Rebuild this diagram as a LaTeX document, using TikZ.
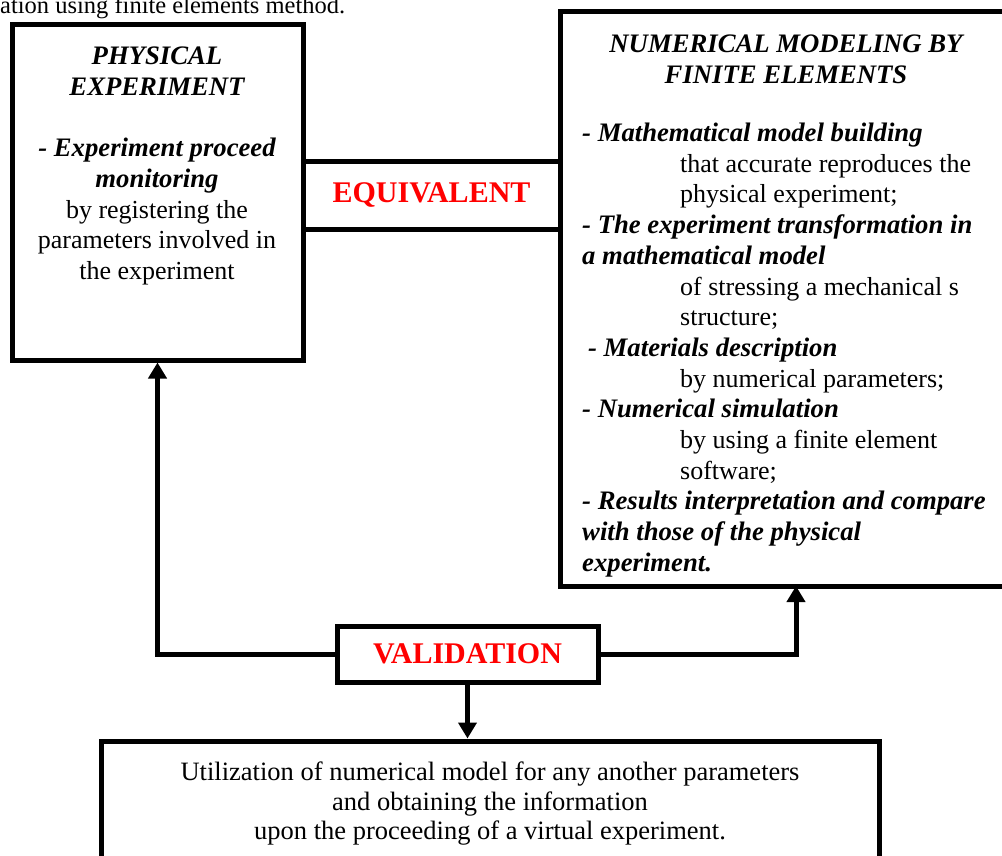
\documentclass[tikz,border=0pt]{standalone}
\usepackage{fontspec}
\setmainfont{Liberation Serif}
\usetikzlibrary{arrows.meta}
\newcommand{\bfit}[1]{{\fontsize{26.7}{30.7}\selectfont\bfseries\itshape #1}}

\begin{document}
\begin{tikzpicture}[x=1pt,y=-1pt,
        box/.style={draw, line width=5pt, inner sep=0pt},
        conn/.style={line width=5pt, -{Triangle[width=18pt,length=16pt]}},
        txt/.style={inner sep=0pt, font=\fontsize{26}{30.7}\selectfont},
        red label/.style={text=red, font=\fontsize{30}{34}\selectfont\bfseries}]
    \useasboundingbox (0,0) rectangle (1002,856);
    \clip (0,0) rectangle (1002,856);

    % caption line cut off by the frame
    \node [txt, anchor=base west, font=\fontsize{24.5}{30}\selectfont] (CAP) at (0,14) {ation using finite elements method.};

    % boxes
    \node [box, minimum width=291pt, minimum height=335pt] (PE) at (157.5,192.5) {};
    \node [box, minimum width=540pt, minimum height=574pt] (NM) at (830,299) {};
    \node [box, minimum width=257pt, minimum height=67pt, red label] (EQ) at (431.5,195.5) {EQUIVALENT};
    \node [box, minimum width=261pt, minimum height=56pt, red label] (VAL) at (467.5,654) {VALIDATION};
    \node [box, minimum width=778pt, minimum height=159pt] (UT) at (490,820.5) {};

    % texts
    \node [txt, align=center] (PEtext) at (157,166) {\bfit{PHYSICAL}\\ \bfit{EXPERIMENT}\\[30.7pt]
        \bfit{- Experiment proceed}\\ \bfit{monitoring}\\ by registering the\\ parameters involved in\\ the experiment};
    \node [txt, align=center] (NMtitle) at (786,59) {\bfit{NUMERICAL MODELING BY}\\ \bfit{FINITE ELEMENTS}};
    \node [txt, align=left, anchor=west] (NMtext) at (582,350) {\bfit{- Mathematical model building}\\
        \hspace*{98pt}that accurate reproduces the\\
        \hspace*{98pt}physical experiment;\\
        \bfit{- The experiment transformation in}\\
        \bfit{a mathematical model}\\
        \hspace*{98pt}of stressing a mechanical s\\
        \hspace*{98pt}structure;\\
        \hspace*{6pt}\bfit{- Materials description}\\
        \hspace*{98pt}by numerical parameters;\\
        \bfit{- Numerical simulation}\\
        \hspace*{98pt}by using a finite element\\
        \hspace*{98pt}software;\\
        \bfit{- Results interpretation and compare}\\
        \bfit{with those of the physical}\\
        \bfit{experiment.}};
    \node [txt, align=center, font=\fontsize{26.5}{29.5}\selectfont] (UTtext) at (490,804) {Utilization of numerical model for any another parameters\\
        and obtaining the information\\ upon the proceeding of a virtual experiment.};

    % connectors
    \coordinate (NMin) at (796,586);
    \draw [conn] (VAL.west) -| (PE.south);
    \draw [conn] (VAL.east) -| (NMin);
    \draw [conn] (VAL.south) -- (VAL.south |- UT.north);
\end{tikzpicture}
\end{document}
